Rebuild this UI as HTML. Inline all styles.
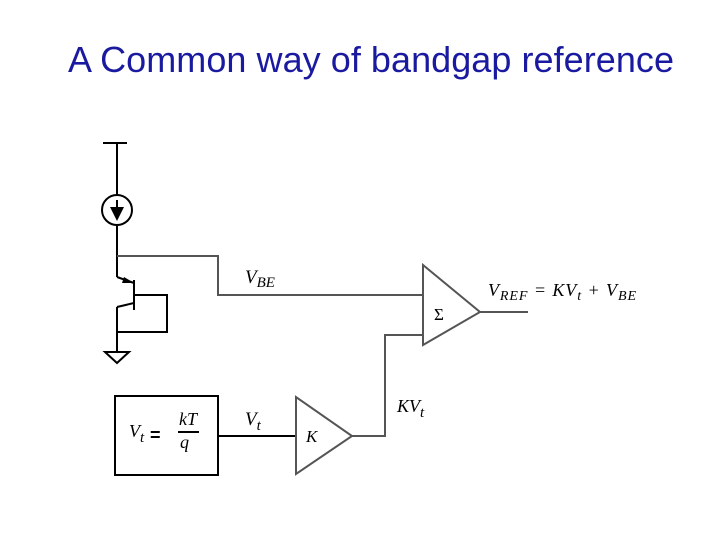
<!DOCTYPE html>
<html><head><style>
body{margin:0;background:#fff;width:720px;height:540px;overflow:hidden}
svg text{font-family:"Liberation Serif",serif;font-style:italic}
</style></head><body>
<svg width="720" height="540" xmlns="http://www.w3.org/2000/svg">
<text x="371" y="72" text-anchor="middle" textLength="606" style="font-family:'Liberation Sans',sans-serif;font-style:normal;font-size:36px" fill="#1a1aa0">A Common way of bandgap reference</text>
<g stroke="#000" stroke-width="2" fill="none">
<line x1="103" y1="143" x2="127" y2="143"/>
<line x1="117" y1="143" x2="117" y2="195"/>
<circle cx="117" cy="210" r="15"/>
<line x1="117" y1="200" x2="117" y2="215"/>
<line x1="117" y1="225" x2="117" y2="256"/>
<line x1="117" y1="256" x2="117" y2="277"/>
<line x1="117" y1="277" x2="134" y2="283"/>
<line x1="134" y1="280" x2="134" y2="310"/>
<line x1="134" y1="303" x2="117" y2="307"/>
<line x1="117" y1="307" x2="117" y2="352"/>
<polyline points="134,295 167,295 167,332 117,332"/>
<polygon points="105,352 129,352 117,363"/>
<rect x="115" y="396" width="103" height="79"/>
<line x1="218" y1="436" x2="296" y2="436"/>
<line x1="178" y1="432" x2="199" y2="432"/>
</g>
<polygon points="110,207 124,207 117,221" fill="#000"/>
<polygon points="134,283 124,277 122,283" fill="#000"/>
<g stroke="#555" stroke-width="2" fill="none">
<polyline points="117,256 218,256 218,295 423,295"/>
<polygon points="296,397 296,474 352,436"/>
<polyline points="352,436 385,436 385,335 423,335"/>
<polygon points="423,265 423,345 480,312"/>
<line x1="480" y1="312" x2="528" y2="312"/>
</g>
<text x="245" y="283" font-size="19">V<tspan font-size="15" dy="4">BE</tspan></text>
<text x="488" y="296" font-size="18" textLength="148">V<tspan font-size="14" dy="4">REF</tspan><tspan dy="-4"> = KV</tspan><tspan font-size="14" dy="4">t</tspan><tspan dy="-4"> + V</tspan><tspan font-size="14" dy="4">BE</tspan></text>
<text x="434" y="320" font-size="17" style="font-style:normal">Σ</text>
<text x="397" y="412" font-size="18">KV<tspan font-size="15" dy="5">t</tspan></text>
<text x="245" y="425" font-size="19">V<tspan font-size="15" dy="5">t</tspan></text>
<text x="306" y="442" font-size="17">K</text>
<text x="129" y="437" font-size="18">V<tspan font-size="15" dy="5">t</tspan></text>
<text x="150" y="441" font-size="18" style="font-family:'Liberation Sans',sans-serif;font-style:normal;font-weight:bold">=</text>
<text x="179" y="425" font-size="18">kT</text>
<text x="180" y="448" font-size="18">q</text>
</svg>
</body></html>
